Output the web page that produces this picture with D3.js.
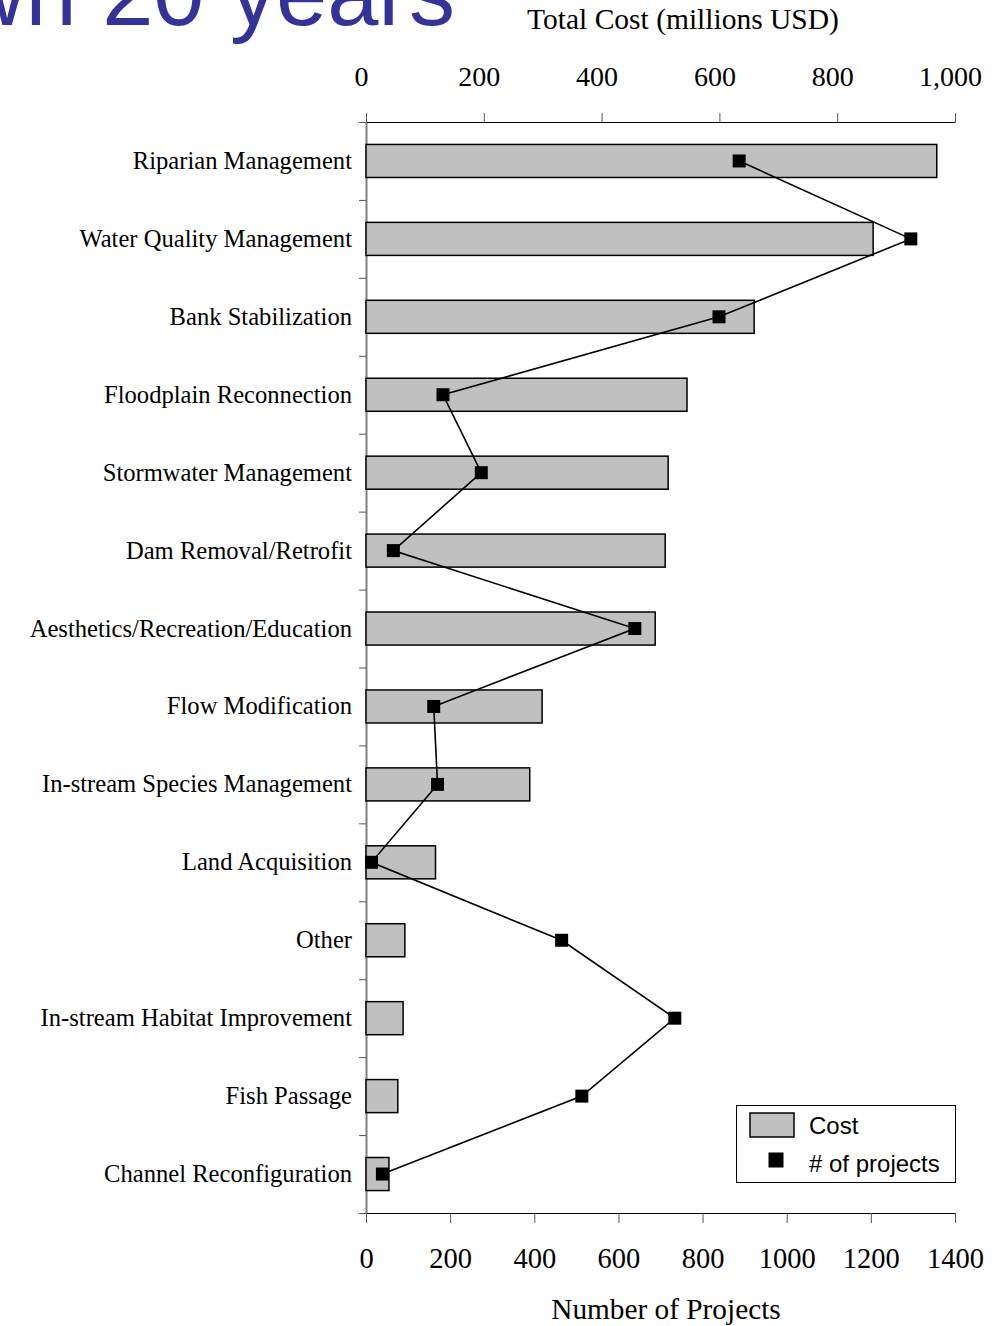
<!DOCTYPE html>
<html>
<head>
<meta charset="utf-8">
<script src="https://cdn.jsdelivr.net/npm/d3@7"></script>
<style>
  html, body { margin: 0; padding: 0; background: #fff; }
  svg { display: block; }
</style>
</head>
<body>
<svg id="chart" width="1003" height="1326"></svg>
<script>
// Restoration categories, top to bottom
const categories = [
  "Riparian Management",
  "Water Quality Management",
  "Bank Stabilization",
  "Floodplain Reconnection",
  "Stormwater Management",
  "Dam Removal/Retrofit",
  "Aesthetics/Recreation/Education",
  "Flow Modification",
  "In-stream Species Management",
  "Land Acquisition",
  "Other",
  "In-stream Habitat Improvement",
  "Fish Passage",
  "Channel Reconfiguration"
];

// Total cost per category (millions USD)
const costValues = [969, 861, 659, 545, 513, 508, 491, 299, 278, 118, 66, 63, 54, 39];

// Number of projects per category
const projectCounts = [887, 1295, 839, 183, 274, 65, 639, 161, 170, 13, 465, 734, 513, 39];

// Tick values for the two value axes
const costTicks = [0, 200, 400, 600, 800, 1000];
const projectTicks = [0, 200, 400, 600, 800, 1000, 1200, 1400];

const titleText = "wn 20 years";
const costAxisTitle = "Total Cost (millions USD)";
const projectAxisTitle = "Number of Projects";
const legendLabels = ["Cost", "# of projects"];

const svg = d3.select("#chart");

const plot = { left: 366, right: 955, top: 122, bottom: 1213 };

const serif = "'Liberation Serif', 'Times New Roman', Times, serif";
const sans = "'Liberation Sans', Arial, Helvetica, sans-serif";

// Scales
const y = d3.scaleBand()
  .domain(categories)
  .range([plot.top, plot.bottom])
  .paddingInner(0.576)
  .paddingOuter(0.288);

const xCost = d3.scaleLinear().domain([0, 1000]).range([plot.left, plot.right]);
const xProj = d3.scaleLinear().domain([0, 1400]).range([plot.left, plot.right]);

// Slide title (runs off the left and top edges)
svg.append("text")
  .attr("x", 455)
  .attr("y", 25)
  .attr("text-anchor", "end")
  .attr("font-family", sans)
  .attr("font-size", 92)
  .attr("fill", "#333399")
  .text(titleText);

// Category axis: ticks at band boundaries, no labels
const boundary = d3.scaleLinear().domain([0, categories.length]).range([plot.top, plot.bottom]);
const catAxis = svg.append("g")
  .attr("transform", `translate(${plot.left},0)`)
  .call(d3.axisLeft(boundary)
    .tickValues(d3.range(0, categories.length + 1))
    .tickSize(7)
    .tickSizeOuter(0)
    .tickFormat(""));
catAxis.select(".domain").attr("stroke", "#808080").attr("stroke-width", 2);
catAxis.selectAll(".tick line").attr("stroke", "#555").attr("stroke-width", 1);

// Top axis: cost
const topAxis = svg.append("g")
  .attr("transform", `translate(0,${plot.top})`)
  .call(d3.axisTop(xCost)
    .tickValues(costTicks)
    .tickSize(9)
    .tickSizeOuter(0)
    .tickPadding(27)
    .tickFormat(d3.format(",")));
topAxis.select(".domain").attr("stroke", "#000").attr("stroke-width", 1.2);
topAxis.selectAll(".tick line").attr("stroke", "#555").attr("stroke-width", 1);
topAxis.selectAll(".tick text")
  .attr("dx", -5)
  .attr("font-family", serif)
  .attr("font-size", 28)
  .attr("fill", "#000");

// Bottom axis: number of projects
const bottomAxis = svg.append("g")
  .attr("transform", `translate(0,${plot.bottom})`)
  .call(d3.axisBottom(xProj)
    .tickValues(projectTicks)
    .tickSize(10)
    .tickSizeOuter(0)
    .tickPadding(25)
    .tickFormat(d3.format("d")));
bottomAxis.select(".domain").attr("stroke", "#000").attr("stroke-width", 1.2);
bottomAxis.selectAll(".tick line").attr("stroke", "#555").attr("stroke-width", 1);
bottomAxis.selectAll(".tick text")
  .attr("font-family", serif)
  .attr("font-size", 28.5)
  .attr("fill", "#000");

// Axis titles
svg.append("text")
  .attr("x", 683)
  .attr("y", 29)
  .attr("text-anchor", "middle")
  .attr("font-family", serif)
  .attr("font-size", 29.5)
  .text(costAxisTitle);

svg.append("text")
  .attr("x", 666)
  .attr("y", 1319)
  .attr("text-anchor", "middle")
  .attr("font-family", serif)
  .attr("font-size", 29.3)
  .text(projectAxisTitle);

// Category labels
svg.append("g")
  .selectAll("text")
  .data(categories)
  .join("text")
  .attr("x", 352)
  .attr("y", d => y(d) + y.bandwidth() / 2 + 8)
  .attr("text-anchor", "end")
  .attr("font-family", serif)
  .attr("font-size", 24.6)
  .attr("fill", "#000")
  .text(d => d);

// Cost bars
svg.append("g")
  .selectAll("rect")
  .data(categories)
  .join("rect")
  .attr("x", xCost(0))
  .attr("y", d => y(d))
  .attr("width", (d, i) => xCost(costValues[i]) - xCost(0))
  .attr("height", y.bandwidth())
  .attr("fill", "#c0c0c0")
  .attr("stroke", "#000")
  .attr("stroke-width", 1.5);

// Project-count line with square markers
const pts = categories.map((c, i) => [xProj(projectCounts[i]), y(c) + y.bandwidth() / 2]);

svg.append("path")
  .attr("d", d3.line()(pts))
  .attr("fill", "none")
  .attr("stroke", "#000")
  .attr("stroke-width", 1.6);

const m = 13;
svg.append("g")
  .selectAll("rect")
  .data(pts)
  .join("rect")
  .attr("x", d => d[0] - m / 2)
  .attr("y", d => d[1] - m / 2)
  .attr("width", m)
  .attr("height", m)
  .attr("fill", "#000");

// Legend
const legend = svg.append("g");
legend.append("rect")
  .attr("x", 736.5).attr("y", 1105.5)
  .attr("width", 219).attr("height", 77)
  .attr("fill", "#fff")
  .attr("stroke", "#000")
  .attr("stroke-width", 1);
legend.append("rect")
  .attr("x", 750).attr("y", 1113)
  .attr("width", 44).attr("height", 24)
  .attr("fill", "#c0c0c0")
  .attr("stroke", "#000")
  .attr("stroke-width", 1.5);
legend.append("rect")
  .attr("x", 768.5).attr("y", 1152.5)
  .attr("width", 15).attr("height", 15)
  .attr("fill", "#000");
legend.append("text")
  .attr("x", 809).attr("y", 1134)
  .attr("font-family", sans)
  .attr("font-size", 24)
  .text(legendLabels[0]);
legend.append("text")
  .attr("x", 809).attr("y", 1172)
  .attr("font-family", sans)
  .attr("font-size", 24)
  .text(legendLabels[1]);
</script>
</body>
</html>
